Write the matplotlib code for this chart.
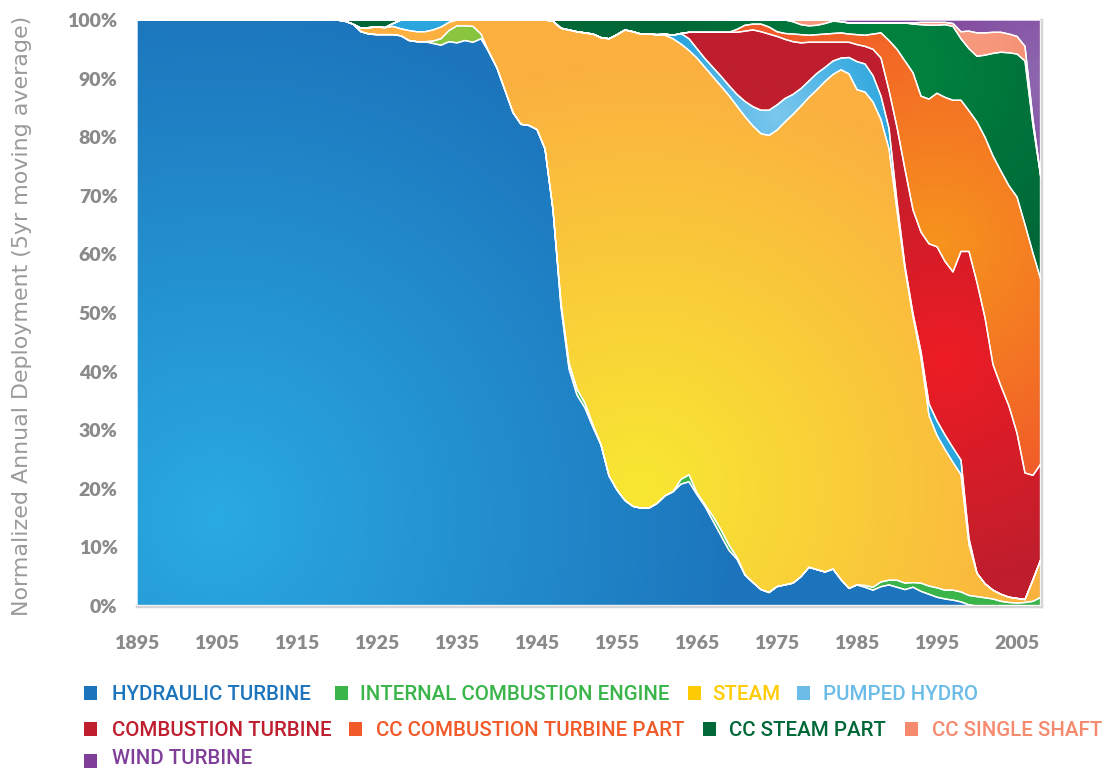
import numpy as np
import matplotlib
matplotlib.use("Agg")
import matplotlib.pyplot as plt
from matplotlib.patches import PathPatch, Rectangle
from matplotlib.colors import to_rgb

# ---------------- data (share of annual deployment, %) ----------------
years = [1895, 1900, 1905, 1910, 1915] + list(range(1920, 2009))

hydraulic = [100, 100, 100, 100, 100,
             100, 99.8, 99.3, 98.0, 97.6, 97.5, 97.5, 97.5, 97.3, 96.5,
             96.3, 96.3, 96.0, 95.7, 96.3, 96.1, 96.5, 96.2, 96.8, 94.5,
             91.8, 88.0, 84.2, 82.2, 82.0, 81.3, 78.0, 67.6, 51.0, 40.5,
             36.0, 33.8, 30.5, 27.5, 22.2, 19.8, 18.0, 17.0, 16.7, 16.7,
             17.5, 18.8, 19.5, 20.8, 21.2, 19.0, 17.0, 14.5, 12.0, 9.5,
             8.0, 5.3, 4.0, 2.8, 2.3, 3.3, 3.6, 3.9, 5.0, 6.6,
             6.2, 5.8, 6.3, 4.5, 3.0, 3.6, 3.2, 2.7, 3.3, 3.6,
             3.2, 2.8, 3.2, 2.5, 2.0, 1.5, 1.2, 1.0, 0.7, 0.2,
             0, 0, 0, 0, 0, 0, 0, 0, 0]

internal_combustion = [0, 0, 0, 0, 0,
                       0, 0, 0, 0, 0, 0, 0, 0, 0, 0,
                       0, 0, 0.4, 1.1, 1.9, 2.9, 2.5, 2.7, 0.8, 0,
                       0, 0, 0, 0, 0, 0, 0, 0, 0.8, 1.0,
                       1.0, 0.8, 0.4, 0, 0, 0, 0, 0, 0, 0,
                       0, 0, 0, 0.8, 1.2, 0.3, 0.3, 0.8, 1.0, 0.9,
                       0.3, 0, 0, 0, 0, 0, 0, 0, 0, 0,
                       0, 0, 0, 0, 0, 0, 0.3, 0.5, 0.8, 0.8,
                       1.2, 1.1, 0.8, 1.4, 1.4, 1.6, 1.5, 1.7, 1.7, 1.6,
                       1.6, 1.4, 1.2, 0.8, 0.6, 0.5, 0.6, 0.8, 1.5]

steam = [0, 0, 0, 0, 0,
         0, 0, 0, 0.6, 1.1, 1.3, 1.2, 1.4, 1.2, 1.7,
         1.7, 1.7, 1.9, 2.0, 1.4, 1.0, 1.0, 1.1, 2.4, 5.5,
         8.2, 12.0, 15.8, 17.8, 18.0, 18.7, 22.0, 32.2, 46.8, 56.8,
         61.0, 63.2, 66.7, 69.5, 74.6, 77.7, 80.3, 81.0, 80.9, 80.9,
         80.0, 78.6, 77.3, 74.3, 72.4, 74.2, 74.6, 75.0, 75.7, 76.7,
         77.0, 78.2, 77.9, 77.8, 78.0, 77.9, 79.0, 80.0, 80.3, 80.2,
         81.9, 83.7, 84.4, 87.0, 87.8, 84.5, 84.2, 82.8, 78.9, 73.6,
         63.1, 53.6, 45.4, 38.5, 29.1, 26.0, 24.0, 21.8, 20.0, 8.7,
         4.0, 2.4, 1.5, 1.2, 0.9, 0.8, 0.5, 3.7, 6.5]

pumped_hydro = [0, 0, 0, 0, 0,
                0, 0, 0, 0, 0, 0, 0, 0.5, 1.5, 1.8,
                2.0, 2.0, 1.7, 1.2, 0.4, 0, 0, 0, 0, 0,
                0, 0, 0, 0, 0, 0, 0, 0, 0, 0,
                0, 0, 0, 0, 0, 0, 0, 0, 0, 0,
                0, 0.2, 0.6, 1.8, 2.0, 1.6, 1.5, 1.6, 1.7, 1.7,
                2.0, 2.6, 3.3, 4.0, 4.3, 4.3, 4.0, 3.4, 3.0, 2.8,
                2.8, 2.4, 2.3, 2.0, 2.8, 4.8, 4.8, 4.5, 4.0, 3.5,
                1.5, 0.5, 0.5, 1.0, 2.0, 2.5, 2.5, 2.5, 2.5, 1.0,
                0, 0, 0, 0, 0, 0, 0, 0, 0]

combustion_turbine = [0, 0, 0, 0, 0,
                      0, 0, 0, 0, 0, 0, 0, 0, 0, 0,
                      0, 0, 0, 0, 0, 0, 0, 0, 0, 0,
                      0, 0, 0, 0, 0, 0, 0, 0, 0, 0,
                      0, 0, 0, 0, 0, 0, 0, 0, 0, 0,
                      0, 0, 0, 0, 1.1, 2.8, 4.5, 6.0, 7.5, 9.1,
                      10.6, 12.0, 13.1, 13.4, 13.0, 11.7, 10.1, 9.0, 7.8, 6.6,
                      5.3, 4.3, 3.2, 2.7, 2.6, 2.9, 3.0, 4.5, 6.5, 6.5,
                      12.7, 16.5, 17.7, 20.4, 27.3, 29.7, 29.6, 30.0, 35.6, 49.0,
                      49.6, 45.4, 38.5, 35.5, 32.6, 28.2, 21.6, 17.8, 16.3]

cc_combustion_turbine = [0, 0, 0, 0, 0,
                         0, 0, 0, 0, 0, 0, 0, 0, 0, 0,
                         0, 0, 0, 0, 0, 0, 0, 0, 0, 0,
                         0, 0, 0, 0, 0, 0, 0, 0, 0, 0,
                         0, 0, 0, 0, 0, 0, 0, 0, 0, 0,
                         0, 0, 0, 0, 0, 0, 0, 0, 0, 0,
                         0.5, 1.0, 1.0, 1.3, 1.2, 0.8, 1.0, 1.3, 1.4, 1.2,
                         1.3, 1.4, 1.5, 1.6, 1.4, 1.7, 1.9, 2.6, 4.3, 8.5,
                         13.3, 18.5, 23.4, 23.2, 24.7, 26.2, 28.0, 29.3, 25.8, 24.0,
                         27.4, 30.8, 35.6, 36.7, 37.6, 40.3, 42.4, 37.9, 31.3]

cc_steam = [0, 0, 0, 0, 0,
            0, 0.2, 0.7, 1.4, 1.3, 1.2, 1.3, 0.6, 0, 0,
            0, 0, 0, 0, 0, 0, 0, 0, 0, 0,
            0, 0, 0, 0, 0, 0, 0, 0.2, 1.4, 1.7,
            2.0, 2.2, 2.4, 3.0, 3.2, 2.5, 1.7, 2.0, 2.4, 2.4,
            2.5, 2.4, 2.6, 2.3, 2.1, 2.1, 2.1, 2.1, 2.1, 2.1,
            1.6, 0.9, 0.7, 0.7, 1.2, 2.0, 2.3, 2.1, 1.7, 1.6,
            1.6, 1.8, 2.1, 1.9, 1.9, 2.0, 2.1, 1.9, 1.7, 3.0,
            4.5, 6.5, 8.3, 12.2, 12.6, 11.6, 12.4, 12.6, 10.5, 10.6,
            11.2, 14.0, 17.5, 20.3, 22.7, 24.4, 27.9, 21.8, 17.4]

cc_single_shaft = [0, 0, 0, 0, 0,
                   0, 0, 0, 0, 0, 0, 0, 0, 0, 0,
                   0, 0, 0, 0, 0, 0, 0, 0, 0, 0,
                   0, 0, 0, 0, 0, 0, 0, 0, 0, 0,
                   0, 0, 0, 0, 0, 0, 0, 0, 0, 0,
                   0, 0, 0, 0, 0, 0, 0, 0, 0, 0,
                   0, 0, 0, 0, 0, 0, 0, 0.3, 0.8, 1.0,
                   0.9, 0.6, 0.2, 0, 0, 0, 0, 0, 0, 0,
                   0, 0, 0.2, 0.4, 0.5, 0.5, 0.4, 0.5, 1.2, 3.0,
                   4.0, 3.8, 3.6, 3.4, 3.2, 3.0, 2.5, 1.0, 0]

wind_turbine = [0, 0, 0, 0, 0,
                0, 0, 0, 0, 0, 0, 0, 0, 0, 0,
                0, 0, 0, 0, 0, 0, 0, 0, 0, 0,
                0, 0, 0, 0, 0, 0, 0, 0, 0, 0,
                0, 0, 0, 0, 0, 0, 0, 0, 0, 0,
                0, 0, 0, 0, 0, 0, 0, 0, 0, 0,
                0, 0, 0, 0, 0, 0, 0, 0, 0, 0,
                0, 0, 0, 0.3, 0.5, 0.5, 0.5, 0.5, 0.5, 0.5,
                0.5, 0.5, 0.5, 0.4, 0.4, 0.4, 0.4, 0.6, 2.0, 1.9,
                2.2, 2.2, 2.1, 2.1, 2.4, 2.8, 4.5, 17.0, 27.0]

labels = ["HYDRAULIC TURBINE", "INTERNAL COMBUSTION ENGINE", "STEAM",
          "PUMPED HYDRO", "COMBUSTION TURBINE", "CC COMBUSTION TURBINE PART",
          "CC STEAM PART", "CC SINGLE SHAFT", "WIND TURBINE"]

x_ticks = [1895, 1905, 1915, 1925, 1935, 1945, 1955, 1965, 1975, 1985, 1995, 2005]
y_ticks = [0, 10, 20, 30, 40, 50, 60, 70, 80, 90, 100]

# ---------------- style ----------------
legend_colors = ["#1c75bc", "#39b54a", "#ffcb05", "#6bbde8", "#be1e2d",
                 "#f15a29", "#006838", "#f58a6e", "#7f3f98"]
# (inner colour, outer colour, centre year, centre %, radius px)
gradients = [
    ("#2aaae2", "#1c75bc", 1905, 15, 520),
    ("#8dc63f", "#39b54a", 1935, 98, 250),
    ("#f8e832", "#fbb040", 1958, 20, 430),
    ("#7cc8ee", "#2aa5dd", 1975, 84, 120),
    ("#ed1c24", "#be1e2d", 1996, 42, 230),
    ("#f7941d", "#f15a29", 1995, 62, 260),
    ("#00853f", "#006838", 1990, 92, 220),
    ("#f7a286", "#f58a6e", 1990, 98, 200),
    ("#8e68b0", "#7f3f98", 2008, 90, 150),
]

series = [hydraulic, internal_combustion, steam, pumped_hydro,
          combustion_turbine, cc_combustion_turbine, cc_steam,
          cc_single_shaft, wind_turbine]

W, H = 1104, 770
fig = plt.figure(figsize=(W / 100, H / 100), dpi=100)
ax = fig.add_axes([137 / W, 1 - 606 / H, (1041 - 137) / W, (606 - 20) / H])

X0, X1 = years[0], years[-1]
colls = ax.stackplot(years, *series, colors=legend_colors,
                     edgecolor="white", linewidth=1.0, zorder=3)

gx = np.linspace(X0, X1, 500)
gy = np.linspace(0, 100, 400)
GX, GY = np.meshgrid(gx, gy)
px_per_year = (1041 - 137) / (X1 - X0)
px_per_pct = (606 - 20) / 100.0

for coll, (c_in, c_out, cx, cy, R) in zip(colls, gradients):
    d = np.sqrt(((GX - cx) * px_per_year) ** 2 + ((GY - cy) * px_per_pct) ** 2)
    t = np.clip(d / R, 0, 1)[..., None]
    img = np.array(to_rgb(c_in)) * (1 - t) + np.array(to_rgb(c_out)) * t
    path = coll.get_paths()[0]
    clip = PathPatch(path, transform=ax.transData, facecolor="none",
                     edgecolor="none")
    ax.add_patch(clip)
    im = ax.imshow(img, extent=[X0, X1, 0, 100], origin="lower",
                   aspect="auto", zorder=2, interpolation="bilinear")
    im.set_clip_path(clip)
    coll.set_facecolor("none")

ax.set_xlim(X0, X1)
ax.set_ylim(0, 100)

tick_color = "#8a8a8a"
ax.set_xticks(x_ticks)
ax.set_xticklabels([str(v) for v in x_ticks])
ax.set_yticks(y_ticks)
ax.set_yticklabels([f"{v}%" for v in y_ticks])
ax.tick_params(length=0, colors=tick_color)
ax.tick_params(axis="x", pad=21)
ax.tick_params(axis="y", pad=14)
for lab in ax.get_xticklabels() + ax.get_yticklabels():
    lab.set_fontfamily("Lato")
    lab.set_fontweight("heavy")
    lab.set_fontsize(14)
    lab.set_color(tick_color)

for s in ["top", "left"]:
    ax.spines[s].set_visible(False)
ax.spines["bottom"].set_color("#d6d6d6")
ax.spines["bottom"].set_linewidth(2.5)
ax.spines["right"].set_color("#d6d6d6")
ax.spines["right"].set_linewidth(2.5)

fig.text(22 / W, 1 - 316 / H, "Normalized Annual Deployment (5yr moving average)",
         rotation=90, ha="center", va="center", fontsize=15.9,
         family="DejaVu Sans", color="#9a9a9a")

# ---------------- legend ----------------
legend_layout = [
    (0, 84, 112, 693, 694), (1, 335, 360, 693, 694), (2, 688, 712, 693, 694),
    (3, 797, 823, 693, 694),
    (4, 84, 112, 729, 730), (5, 349, 376, 729, 730), (6, 703, 729, 729, 730),
    (7, 905, 932, 729, 730),
    (8, 84, 112, 761, 759),
]
for idx, sx, tx, yc, ty in legend_layout:
    fig.patches.append(Rectangle((sx / W, 1 - (yc + 7) / H), 13 / W, 14 / H,
                                 transform=fig.transFigure, figure=fig,
                                 facecolor=legend_colors[idx], edgecolor="none"))
    fig.text(tx / W, 1 - ty / H, labels[idx], ha="left", va="center",
             fontsize=14.8, family="Roboto", fontweight="medium",
             color=legend_colors[idx])

fig.savefig("out.png", dpi=100)
